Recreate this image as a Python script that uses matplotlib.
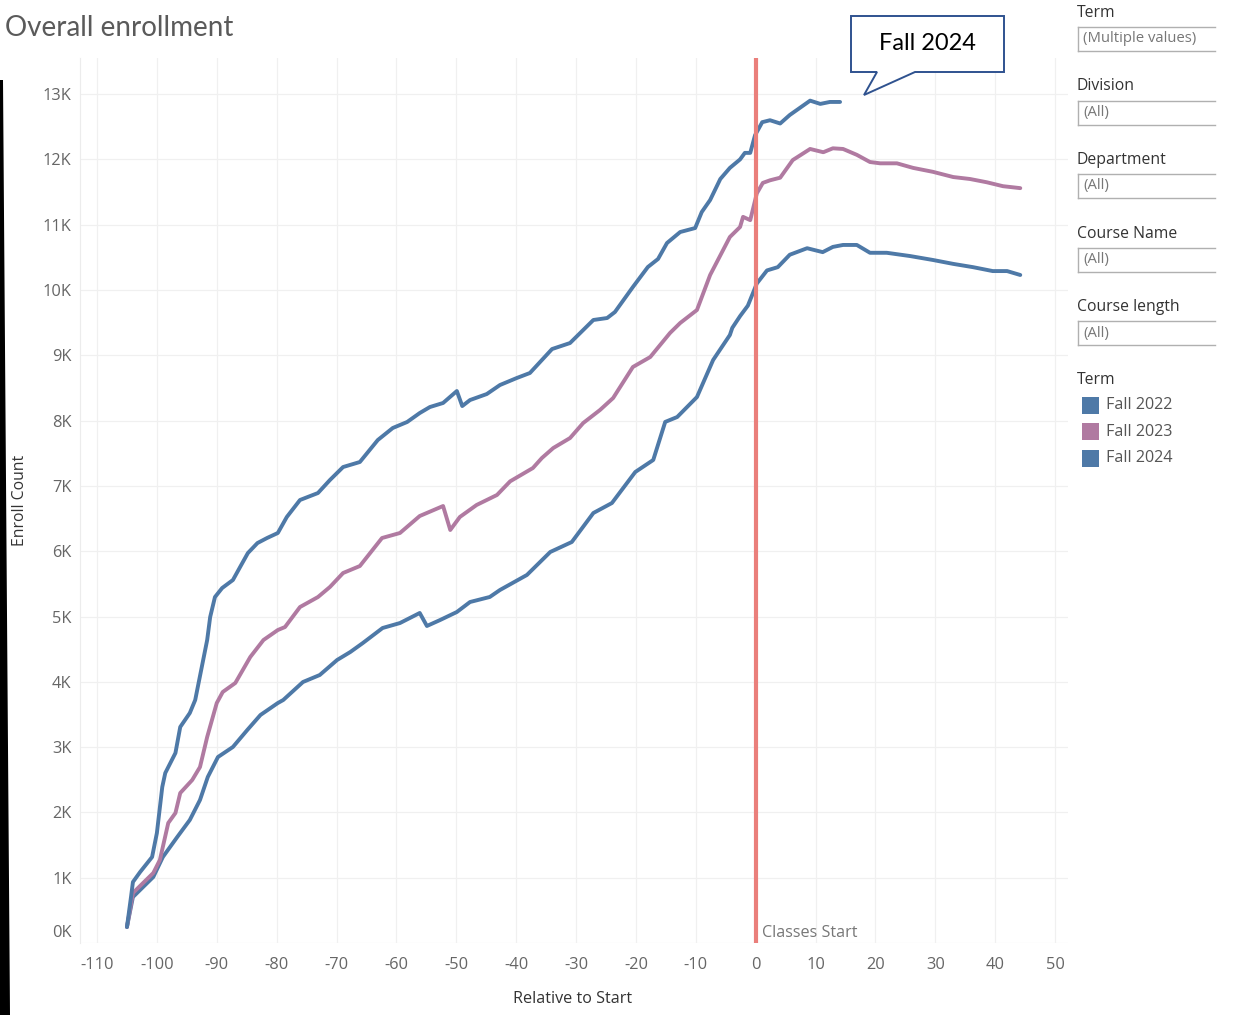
import matplotlib
matplotlib.use("Agg")
import matplotlib.pyplot as plt
from matplotlib.patches import Polygon, Rectangle
from matplotlib.lines import Line2D
from matplotlib.transforms import ScaledTranslation

plt.rcParams['font.family'] = ['Open Sans', 'DejaVu Sans']

# --- DATA ---
# days relative to start of classes, enrollment count
fall2024_day = [-105, -104.3, -104, -102.8, -100.8, -100, -99.1, -98.6, -96.9, -96.1,
                -94.5, -93.6, -92.5, -91.6, -91.1, -90.3, -89.1, -87.3, -86.1, -84.8,
                -83.2, -81.6, -79.8, -78.3, -76.1, -73.1, -71.1, -68.9, -66.1, -63.1,
                -60.6, -58.2, -56.1, -54.4, -52.2, -49.9, -49.0, -47.7, -44.9, -42.7,
                -39.9, -37.7, -34.0, -31.0, -27.1, -24.8, -23.5, -20.5, -18.0, -16.3,
                -14.8, -12.6, -10.1, -9.0, -7.6, -5.9, -4.3, -2.6, -1.8, -0.9,
                -0.1, 1.1, 2.4, 4.1, 5.7, 9.1, 10.8, 12.4, 14.1]
fall2024_cnt = [245, 720, 934, 1087, 1317, 1684, 2389, 2603, 2910, 3308,
                3522, 3721, 4227, 4640, 4992, 5298, 5436, 5559, 5758, 5972,
                6125, 6202, 6279, 6524, 6784, 6891, 7090, 7289, 7366, 7703,
                7887, 7979, 8116, 8208, 8270, 8453, 8223, 8315, 8407, 8545,
                8652, 8729, 9096, 9188, 9541, 9571, 9663, 10046, 10352, 10475,
                10720, 10888, 10949, 11194, 11378, 11700, 11870, 12000, 12100, 12100,
                12370, 12570, 12600, 12550, 12680, 12900, 12850, 12880, 12880]

fall2023_day = [-105, -104, -100.6, -99.5, -98.1, -96.9, -96.1, -94.1, -92.8, -91.6,
                -90.0, -89.0, -86.9, -84.4, -82.2, -79.8, -78.6, -76.1, -73.1, -71.1,
                -68.9, -66.1, -62.4, -59.4, -56.1, -52.2, -51.0, -49.4, -46.6, -43.2,
                -41.0, -37.2, -35.7, -33.8, -31.0, -28.8, -26.0, -23.8, -20.5, -17.6,
                -14.3, -12.6, -9.8, -7.6, -4.3, -2.6, -2.1, -0.9, 0.2, 1.2,
                2.4, 4.1, 6.2, 9.1, 11.3, 12.9, 14.6, 16.9, 19.1, 20.8,
                23.6, 26.3, 29.6, 33.0, 35.8, 38.6, 41.3, 44.2]
fall2023_cnt = [245, 766, 1072, 1271, 1838, 1991, 2297, 2496, 2695, 3155,
                3675, 3844, 3982, 4380, 4640, 4793, 4839, 5145, 5298, 5452,
                5666, 5773, 6202, 6279, 6539, 6692, 6325, 6524, 6708, 6861,
                7070, 7274, 7427, 7580, 7733, 7963, 8162, 8346, 8821, 8974,
                9342, 9495, 9694, 10230, 10812, 10965, 11120, 11070, 11480, 11640,
                11680, 11720, 11990, 12160, 12110, 12170, 12160, 12070, 11960, 11940,
                11940, 11870, 11810, 11730, 11700, 11650, 11590, 11560]

fall2022_day = [-105, -104, -100.6, -99.0, -96.6, -94.5, -92.8, -91.5, -89.8, -87.3,
                -84.9, -82.7, -79.8, -78.9, -75.6, -72.8, -69.9, -67.7, -65.6, -62.3,
                -59.4, -56.1, -54.9, -52.7, -49.9, -47.7, -44.4, -42.7, -38.2, -34.3,
                -30.7, -27.1, -24.0, -20.1, -17.1, -15.1, -13.1, -9.8, -7.1, -4.3,
                -3.9, -2.6, -1.3, 0.2, 1.9, 3.7, 5.7, 8.6, 11.2, 12.9,
                14.6, 16.9, 19.1, 21.9, 25.8, 29.6, 33.0, 36.3, 39.6, 42.0, 44.2]
fall2022_cnt = [245, 704, 1011, 1317, 1623, 1884, 2190, 2542, 2848, 3002,
                3262, 3492, 3675, 3721, 3997, 4104, 4334, 4456, 4594, 4824,
                4900, 5054, 4855, 4946, 5069, 5222, 5299, 5406, 5636, 5988,
                6141, 6585, 6738, 7213, 7397, 7980, 8055, 8361, 8928, 9311,
                9420, 9600, 9760, 10100, 10300, 10350, 10540, 10640, 10580, 10660,
                10690, 10690, 10570, 10570, 10520, 10460, 10400, 10350, 10290, 10290, 10230]

terms = ["Fall 2022", "Fall 2023", "Fall 2024"]
x_ticks = list(range(-110, 51, 10))
y_ticks = list(range(0, 13001, 1000))
filters = [("Term", "(Multiple values)"), ("Division", "(All)"), ("Department", "(All)"),
           ("Course Name", "(All)"), ("Course length", "(All)")]

BLUE = "#4e79a7"
PINK = "#b07aa1"
colors = [BLUE, PINK, BLUE]

W, H = 1241, 1015
fig = plt.figure(figsize=(W / 100, H / 100), dpi=100)
fig.patch.set_facecolor("white")


def fx(px):
    return px / W


def fy(py):
    return 1 - py / H


ax = fig.add_axes([fx(80), fy(943), (1068 - 80) / W, (943 - 58) / H])
ax.set_xlim(-112.84, 52.17)
ax.set_ylim(0, 13553)

for day, cnt, c in [(fall2022_day, fall2022_cnt, colors[0]),
                    (fall2023_day, fall2023_cnt, colors[1]),
                    (fall2024_day, fall2024_cnt, colors[2])]:
    ax.plot(day, cnt, color=c, lw=2.8, solid_joinstyle="round", solid_capstyle="round", zorder=3)

# classes start reference line
ax.axvline(0, color="#ea7f7b", lw=3, zorder=4)
ax.annotate("Classes Start", xy=(0, 0), xytext=(4.5, 7.5), textcoords="offset points",
            va="center", ha="left", fontsize=11.6, color="#777777")

ax.set_xticks(x_ticks)
ax.set_xticklabels([str(v) for v in x_ticks])
ax.set_yticks(y_ticks)
ax.set_yticklabels([f"{v // 1000}K" for v in y_ticks])
ax.tick_params(length=0, labelsize=11.8, labelcolor="#666666")
ax.tick_params(axis="x", pad=10)
ax.tick_params(axis="y", pad=6)
ax.get_yticklabels()[0].set_transform(ax.get_yticklabels()[0].get_transform()
                                      + ScaledTranslation(0, 0.12, fig.dpi_scale_trans))
ax.grid(True, color="#f0f0f0", lw=0.9)
ax.set_axisbelow(True)
for s in ["top", "right", "bottom"]:
    ax.spines[s].set_visible(False)
ax.spines["left"].set_color("#ececec")

fig.text(fx(573), fy(999), "Relative to Start", ha="center", va="center", fontsize=11.6, color="#333333")
fig.text(fx(20), fy(500), "Enroll Count", ha="center", va="center", rotation=90, fontsize=11.3, color="#333333")
fig.text(fx(5), fy(28), "Overall enrollment", ha="left", va="center", fontsize=20,
         color="#5a5a5a", family=["Lato", "DejaVu Sans"])

# callout box
pts = [(851, 16), (1004, 16), (1004, 72), (915, 72), (864, 95), (877, 72), (851, 72)]
fig.patches.append(Polygon([(fx(a), fy(b)) for a, b in pts], closed=True, facecolor="white",
                           edgecolor="#2f528f", lw=1.4, transform=fig.transFigure, zorder=10))
fig.text(fx(927.5), fy(44), "Fall 2024", ha="center", va="center", fontsize=17, color="black",
         zorder=11, family=["Lato", "DejaVu Sans"])

# filter panel
for i, (lab, val) in enumerate(filters):
    top = 13 + i * 73.5
    fig.text(fx(1077), fy(top), lab, ha="left", va="center", fontsize=11.3, color="#333333")
    bt, bb = top + 14, top + 38
    for seg in [((1078, bt), (1215, bt)), ((1078, bb), (1215, bb)), ((1078, bt), (1078, bb))]:
        fig.add_artist(Line2D([fx(seg[0][0]), fx(seg[1][0])], [fy(seg[0][1]), fy(seg[1][1])],
                              color="#b0b0b0", lw=1, transform=fig.transFigure))
    fig.text(fx(1083), fy(top + 26), val, ha="left", va="center", fontsize=10.75, color="#777777")

# colour legend
fig.text(fx(1077), fy(380), "Term", ha="left", va="center", fontsize=11.3, color="#333333")
for i, (t, c) in enumerate(zip(terms, colors)):
    yc = 405 + i * 26.5
    fig.patches.append(Rectangle((fx(1082), fy(yc + 8.5)), 17 / W, 17 / H, facecolor=c,
                                 edgecolor="none", transform=fig.transFigure))
    fig.text(fx(1106), fy(yc), t, ha="left", va="center", fontsize=11.6, color="#555555")

# dark edge of the screenshot on the left
fig.patches.append(Polygon([(fx(0), fy(80)), (fx(3), fy(80)), (fx(10), fy(1015)), (fx(0), fy(1015))],
                           closed=True, facecolor="black", edgecolor="none", transform=fig.transFigure))

fig.savefig("out.png", dpi=100, facecolor="white")
